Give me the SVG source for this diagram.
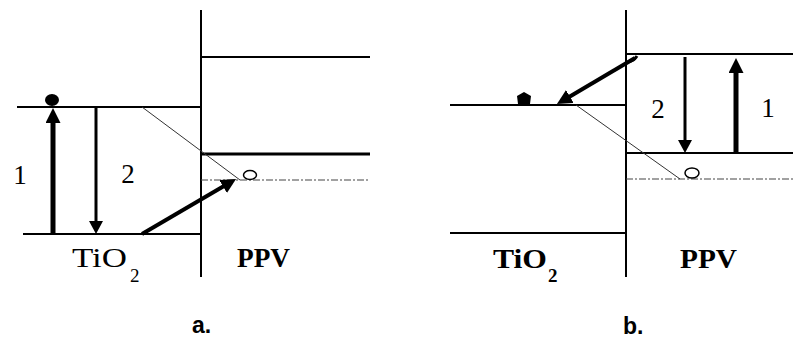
<svg xmlns="http://www.w3.org/2000/svg" width="793" height="338" viewBox="0 0 793 338">
  <style>
    .lvl { stroke: #000; stroke-width: 2; fill: none; }
    .wall { stroke: #000; stroke-width: 2; }
    .homo { stroke: #000; stroke-width: 3; }
    .dash { stroke: #444; stroke-width: 1.2; stroke-dasharray: 7 2 2 2; fill: none; }
    .thin { stroke: #333; stroke-width: 1; fill: none; }
    .arr-thick { stroke: #000; stroke-width: 5; fill: none; }
    .arr-thin { stroke: #000; stroke-width: 3; fill: none; }
    .arr-diag { stroke: #000; stroke-width: 4; fill: none; }
    .hole { fill: #fff; stroke: #000; stroke-width: 1.5; }
    .elec { fill: #000; }
    text.num { font-size: 27px; text-anchor: middle; }
    text.mat { font-size: 28px; }
    text.sub { font-size: 19px; }
    .cap { font-family: "Liberation Sans", Arial, sans-serif; font-weight: bold; font-size: 23px; }
  </style>
  <defs>
    <marker id="head" markerUnits="userSpaceOnUse" markerWidth="16" markerHeight="16" refX="1" refY="7.5" orient="auto">
      <path d="M0,0 L15,7.5 L0,15 z" fill="#000"/>
    </marker>
    <marker id="head-s" markerUnits="userSpaceOnUse" markerWidth="15" markerHeight="15" refX="1" refY="7" orient="auto">
      <path d="M0,0 L13,7 L0,14 z" fill="#000"/>
    </marker>
  </defs>

  <!-- panel a: electron injection from PPV into TiO2 -->
  <g id="panel-a">
    <g id="a-levels">
      <line class="wall" x1="201" y1="10" x2="201" y2="277"/>
      <line class="lvl" x1="201" y1="57" x2="370" y2="57"/>
      <line class="lvl" x1="17" y1="107" x2="201" y2="107"/>
      <line class="homo" x1="201" y1="154" x2="370" y2="154"/>
      <line class="dash" x1="201" y1="180" x2="370" y2="180"/>
      <line class="lvl" x1="23" y1="234" x2="201" y2="234"/>
      <line class="thin" x1="142" y1="107" x2="240" y2="180"/>
    </g>
    <g id="a-connectors">
      <line class="arr-thick" x1="53" y1="234" x2="53" y2="122" marker-end="url(#head)"/>
      <line class="arr-thin" x1="96" y1="107" x2="96" y2="222" marker-end="url(#head-s)"/>
      <line class="arr-diag" x1="142" y1="234" x2="224" y2="186" marker-end="url(#head)"/>
    </g>
    <g id="a-carriers">
      <ellipse class="elec" cx="52" cy="100" rx="7" ry="6"/>
      <ellipse class="hole" cx="250" cy="175" rx="6.5" ry="4.5"/>
    </g>
    <g id="a-labels" font-family="'Liberation Serif', 'Times New Roman', serif">
      <text class="num" x="20" y="184">1</text>
      <text class="num" x="128" y="183">2</text>
      <text class="mat" x="72" y="267" textLength="55" lengthAdjust="spacingAndGlyphs">TiO</text>
      <text class="sub" x="130" y="282">2</text>
      <text class="mat" x="237" y="267" font-weight="bold" textLength="53" lengthAdjust="spacingAndGlyphs">PPV</text>
    </g>
    <text class="cap" x="192" y="333">a.</text>
  </g>

  <!-- panel b: excitation and hole transfer within PPV -->
  <g id="panel-b">
    <g id="b-levels">
      <line class="wall" x1="626" y1="10" x2="626" y2="277"/>
      <line class="lvl" x1="626" y1="54" x2="793" y2="54"/>
      <line class="lvl" x1="450" y1="105" x2="626" y2="105"/>
      <line class="lvl" x1="626" y1="153" x2="793" y2="153"/>
      <line class="dash" x1="626" y1="179" x2="793" y2="179"/>
      <line class="lvl" x1="450" y1="233" x2="626" y2="233"/>
      <line class="thin" x1="576" y1="105" x2="680" y2="179"/>
    </g>
    <g id="b-connectors">
      <path class="arr-thin" d="M628,62 Q634,61 637,56"/>
      <line class="arr-diag" x1="635" y1="58" x2="569" y2="97" marker-end="url(#head)"/>
      <line class="arr-thin" x1="685" y1="57" x2="685" y2="141" marker-end="url(#head-s)"/>
      <line class="arr-thick" x1="736" y1="153" x2="736" y2="72" marker-end="url(#head)"/>
    </g>
    <g id="b-carriers">
      <polygon class="elec" points="524,92 531,96 530,104 518,104 517,96"/>
      <ellipse class="hole" cx="692" cy="173" rx="7" ry="5"/>
    </g>
    <g id="b-labels" font-family="'Liberation Serif', 'Times New Roman', serif">
      <text class="num" x="658" y="118">2</text>
      <text class="num" x="768" y="117">1</text>
      <text class="mat" x="493" y="268" font-weight="bold" textLength="54" lengthAdjust="spacingAndGlyphs">TiO</text>
      <text class="sub" x="548" y="282" font-weight="bold">2</text>
      <text class="mat" x="680" y="268" font-weight="bold" textLength="57" lengthAdjust="spacingAndGlyphs">PPV</text>
    </g>
    <text class="cap" x="623" y="334">b.</text>
  </g>
</svg>
